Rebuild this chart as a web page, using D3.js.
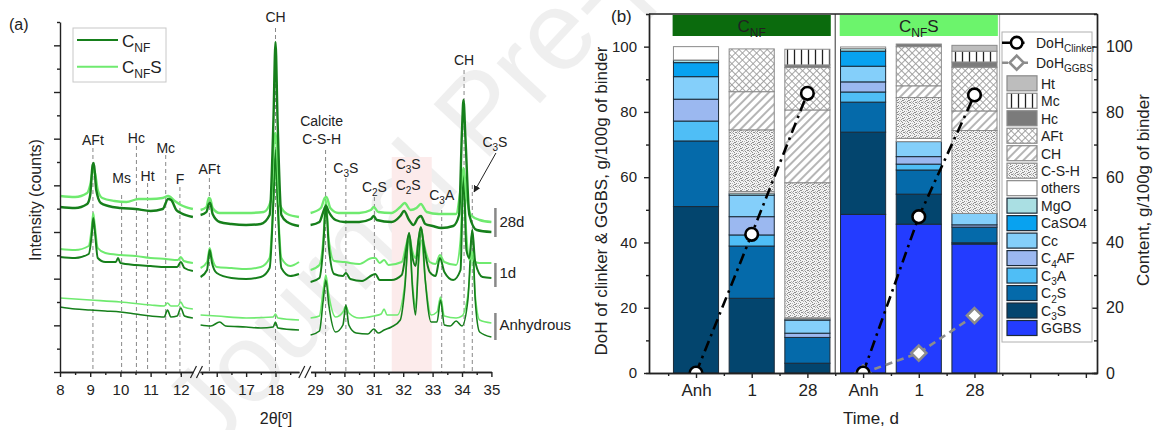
<!DOCTYPE html>
<html><head><meta charset="utf-8">
<script src="https://cdn.jsdelivr.net/npm/d3@7"></script>
<style>
body{margin:0;background:#fff;}
svg{display:block;font-family:"Liberation Sans",Arial,sans-serif;}
</style></head><body>
<svg id="c" width="1156" height="430"></svg>
<script>
// ================= DATA : panel (a) XRD =================
const xrdDomains = [[8, 12.4], [15.43, 18.8], [28.85, 35]];
const xrdMajorTicks = [[8, 9, 10, 11, 12], [16, 17, 18], [29, 30, 31, 32, 33, 34, 35]];
const xrdMinorTicks = [[8.5, 9.5, 10.5, 11.5, 12], [15.5, 16.5, 17.5, 18.5], [29.5, 30.5, 31.5, 32.5, 33.5, 34.5]];
const xrdLegend = ["C_{NF}", "C_{NF}S"];
const xrdAges = ["28d", "1d", "Anhydrous"];
const xrdAgeRange = [[135, 164], [85, 109], [32, 59]];
const xrdAgeText = [145, 94, 42];

// [2theta, intensity]
const cnf28 = [[8,165],[8.5,164],[8.9,168],[9.0,177],[9.08,207],[9.12,209],[9.2,182],[9.35,169],[9.6,166],[10,164],[10.5,163],[11,161],[11.4,163],[11.58,173],[11.68,172],[11.85,162],[12,159],[12.4,155],
  [15.45,157],[15.65,160],[15.73,168],[15.78,169],[15.86,158],[16.1,150],[16.5,148],[17,147],[17.5,148],[17.8,157],[17.93,252],[18,330],[18.07,252],[18.2,157],[18.4,150],[18.8,146],
  [28.85,147],[29.15,150],[29.28,160],[29.37,166],[29.47,160],[29.7,152],[30,150],[30.5,150],[30.9,153],[31,156],[31.1,152],[31.6,150],[31.9,156],[32.03,161],[32.2,152],[32.35,147],[32.5,154],[32.6,156],[32.75,148],[33,146],[33.3,144],[33.7,146],[33.9,157],[34,242],[34.05,272],[34.12,232],[34.25,157],[34.5,142],[35,140]];
const cnfs28 = [[8,176],[8.5,175],[8.9,179],[9.0,187],[9.1,202],[9.15,200],[9.25,182],[9.4,174],[9.8,171],[10.2,170],[10.6,173],[11,173],[11.4,174],[11.58,176],[11.8,171],[12,167],[12.4,163],
  [15.45,162],[15.65,165],[15.73,174],[15.78,173],[15.86,164],[16.1,159],[17,159],[17.6,160],[17.85,172],[17.95,232],[18,239],[18.05,222],[18.15,167],[18.4,158],[18.8,155],
  [28.85,159],[29.2,164],[29.33,174],[29.39,175],[29.52,164],[29.8,159],[30.5,159],[30.9,162],[31,165],[31.15,160],[31.6,159],[31.9,165],[32.05,169],[32.25,162],[32.45,164],[32.6,168],[32.8,160],[33.2,158],[33.8,158],[33.95,182],[34.05,204],[34.15,177],[34.3,157],[34.6,152],[35,150]];
const cnf1 = [[8,115],[8.5,114],[8.95,118],[9.05,137],[9.1,154],[9.15,142],[9.25,114],[9.5,110],[9.85,110],[9.92,114],[10,109],[10.5,107],[11,106],[11.5,105],[11.88,105],[12.0,110],[12.12,104],[12.4,101],
  [15.45,95],[15.67,102],[15.76,122],[15.84,109],[16,99],[16.5,94],[17,93],[17.5,95],[17.8,104],[17.93,172],[18,222],[18.07,172],[18.2,104],[18.5,96],[18.8,98],
  [28.85,90],[29.15,94],[29.28,125],[29.37,167],[29.47,125],[29.65,98],[29.95,96],[30.05,99],[30.2,93],[30.6,91],[30.95,97],[31.05,98],[31.2,92],[31.6,92],[31.95,97],[32.1,122],[32.2,139],[32.3,117],[32.42,106],[32.52,132],[32.6,145],[32.7,127],[32.9,100],[33.1,96],[33.25,114],[33.4,100],[33.7,92],[33.95,102],[34.05,202],[34.15,122],[34.25,114],[34.35,142],[34.45,110],[34.7,95],[35,94]];
const cnfs1 = [[8,123],[8.5,122],[8.95,126],[9.05,144],[9.1,159],[9.15,147],[9.25,124],[9.5,119],[10,117],[10.5,116],[11,114],[11.5,113],[11.9,112],[12.0,115],[12.1,111],[12.4,109],
  [15.45,104],[15.67,110],[15.76,124],[15.84,114],[16,105],[16.5,104],[17,103],[17.5,105],[17.8,114],[17.93,172],[18,207],[18.07,172],[18.2,114],[18.5,106],[18.8,110],
  [28.85,102],[29.15,107],[29.28,132],[29.37,172],[29.47,132],[29.65,111],[30,110],[30.5,108],[30.95,114],[31.05,114],[31.2,109],[31.35,112],[31.5,107],[31.95,110],[32.1,127],[32.2,137],[32.3,122],[32.42,114],[32.52,132],[32.6,144],[32.7,129],[32.9,110],[33.1,108],[33.25,117],[33.4,110],[33.8,107],[33.95,132],[34.05,192],[34.15,137],[34.25,112],[34.35,120],[34.45,110],[34.6,109],[35,109]];
const cnfAnh = [[8,65],[8.5,63],[9,62],[9.5,61],[10,60],[10.5,58],[11,56],[11.45,55],[11.56,62],[11.67,55],[11.88,56],[12.0,64],[12.12,56],[12.4,54],
  [15.45,47],[15.8,46],[16.1,50],[16.3,46],[17,45],[17.5,44],[17.92,45],[18,50],[18.08,44],[18.8,42],
  [28.85,37],[29.15,41],[29.28,72],[29.37,92],[29.47,67],[29.7,40],[29.95,47],[30.05,67],[30.15,47],[30.4,39],[30.8,38],[31,43],[31.15,39],[31.35,42],[31.6,45],[31.9,52],[32.05,82],[32.2,139],[32.32,82],[32.42,57],[32.52,112],[32.62,144],[32.75,92],[32.95,50],[33.15,50],[33.27,72],[33.4,47],[33.6,46],[33.8,51],[34,46],[34.2,72],[34.35,142],[34.45,72],[34.6,40],[35,35]];
const cnfsAnh = [[8,74],[8.5,73],[9,72],[10,70],[11,67],[11.45,66],[11.56,69],[11.67,66],[11.9,66],[12.0,70],[12.1,65],[12.4,63],
  [15.45,57],[16,56],[17,54],[17.92,55],[18,58],[18.08,54],[18.8,52],
  [28.85,54],[29.15,56],[29.28,82],[29.37,97],[29.47,77],[29.7,55],[29.95,60],[30.05,66],[30.15,59],[30.5,54],[31,56],[31.25,58],[31.35,63],[31.45,57],[31.8,57],[32.05,87],[32.2,132],[32.32,87],[32.42,64],[32.52,107],[32.62,132],[32.75,92],[32.95,57],[33.15,60],[33.27,75],[33.4,56],[33.8,54],[34,56],[34.2,77],[34.35,117],[34.45,77],[34.6,52],[35,49]];

// phase annotations: [label, 2theta, label baseline intensity, dashed line top intensity]
const xrdPhaseMarks = [
  ["AFt", 9.09, 227, 224], ["Ms", 10.04, 189, 177], ["Hc", 10.53, 229, 226], ["Ht", 10.9, 191, 189],
  ["Mc", 11.5, 219, 217], ["F", 11.97, 188, 185], ["AFt", 15.75, 198, 194], ["CH", 18.0, 350, 344],
  ["C_{3}S", 30.05, 199, 194], ["C_{2}S", 31.02, 180, 175], ["C_{3}A", 33.31, 172, 162], ["CH", 34.07, 307, 302]
];
const calciteMark = {lines: ["Calcite", "C-S-H"], pos: 29.36, base: [246, 228], top: 222};
const pinkRange = [31.61, 32.97], pinkTop = 215;
const pinkMark = {lines: ["C_{3}S", "C_{2}S"], pos: 32.17, base: [203, 182]};
const arrowMark = {text: "C_{3}S", at: 35.12, base: 225, to: [34.41, 180], pos: 34.35, top: 187};

// ================= DATA : panel (b) phase assemblage =================
const bCategories = ["Anh", "1", "28", "Anh", "1", "28"];
const bGroups = ["C_{NF}", "C_{NF}S"];
const bTickLabels = ["Anh", "1", "28", "Anh", "1", "28", "", ""];
const vGGBS   = [0, 0, 0, 48.6, 45.6, 39.5];
const vC3S    = [51.0, 22.9, 3.0, 25.2, 9.2, 0.4];
const vC2S    = [20.1, 16.0, 7.9, 9.2, 7.4, 4.8];
const vC3A    = [6.1, 3.4, 0, 3.1, 1.8, 0];
const vC4AF   = [6.7, 5.6, 1.3, 3.1, 2.3, 0.7];
const vCc     = [6.9, 6.6, 4.0, 4.8, 4.6, 3.5];
const vCaSO4  = [4.3, 0, 0, 4.6, 0, 0];
const vMgO    = [0.8, 0.6, 0.4, 0.8, 0, 0];
const vOthers = [4.1, 0.5, 0.3, 0.5, 1.0, 0];
const vCSH    = [0, 18.9, 41.4, 0, 12.5, 25.4];
const vCH     = [0, 11.7, 22.3, 0, 3.6, 6.0];
const vAFt    = [0, 13.1, 13.0, 0, 12.0, 13.4];
const vHc     = [0, 0, 0.8, 0, 0.8, 1.6];
const vMc     = [0, 0, 4.8, 0, 0, 3.3];
const vHt     = [0, 0, 0, 0, 0, 1.8];
const doHClinker = [[0, 42.5, 85.7], [0, 47.9, 85.2]];
const doHGGBS = [0, 6.1, 17.6];

// ================= RENDER =================
const svg = d3.select("#c");
const INK = "#222";
function rich(t, str, fs) {
  const sub = Math.round(fs * 0.68), sh = fs * 0.3; let inSub = false;
  str.split(/(_\{[^}]*\})/).filter(s => s).forEach(p => {
    if (p.startsWith("_{")) { t.append("tspan").attr("font-size", sub).attr("dy", inSub ? 0 : sh).text(p.slice(2, -1)); inSub = true; }
    else { t.append("tspan").attr("dy", inSub ? -sh : 0).text(p); inSub = false; }
  });
  return t;
}

// watermark (faint)
svg.append("text").attr("transform", "translate(212,455) rotate(-47)")
  .attr("font-size", 112).attr("fill", "#000").attr("opacity", 0.06).text("Journal Pre-proof");

// ---------- panel (a) ----------
const gA = svg.append("g");
const yA = d3.scaleLinear().domain([0, 350]).range([372, 22]);
const xRanges = [[60, 192.9], [200, 299], [310.6, 491.4]];
const xA = xrdDomains.map((d, i) => d3.scaleLinear().domain(d).range(xRanges[i]));
function xa(t) { for (const s of xA) { const d = s.domain(); if (t >= d[0] - 1e-9 && t <= d[1] + 1e-9) return s(t); } return xA[2](t); }

gA.append("rect").attr("x", xa(pinkRange[0])).attr("width", xa(pinkRange[1]) - xa(pinkRange[0]))
  .attr("y", yA(pinkTop)).attr("height", yA(0) - yA(pinkTop)).attr("fill", "#fcebeb");

// dashed reference lines
const dash = (p, top) => gA.append("line").attr("x1", xa(p)).attr("x2", xa(p)).attr("y1", yA(top)).attr("y2", yA(0))
  .attr("stroke", "#888").attr("stroke-width", 1).attr("stroke-dasharray", "4,3");
xrdPhaseMarks.forEach(m => dash(m[1], m[3]));
dash(calciteMark.pos, calciteMark.top);
dash(arrowMark.pos, arrowMark.top);

const DARK = "#167f1b", LIGHT = "#6fea6f";
const lineA = d3.line().x(d => xa(d[0])).y(d => yA(d[1])).curve(d3.curveMonotoneX);
function drawCurve(data, color, w) {
  xrdDomains.forEach(dm => {
    const seg = data.filter(d => d[0] >= dm[0] - 1e-9 && d[0] <= dm[1] + 1e-9);
    gA.append("path").attr("d", lineA(seg)).attr("fill", "none").attr("stroke", color)
      .attr("stroke-width", w).attr("stroke-linejoin", "round");
  });
}
drawCurve(cnfsAnh, LIGHT, 1.6); drawCurve(cnfAnh, DARK, 1.6);
drawCurve(cnfs1, LIGHT, 2); drawCurve(cnf1, DARK, 2);
drawCurve(cnfs28, LIGHT, 2.4); drawCurve(cnf28, DARK, 2.4);

// labels
const labA = (x, yv, s, anchor) => rich(gA.append("text").attr("x", x).attr("y", yA(yv)).attr("font-size", 14)
  .attr("fill", INK).attr("text-anchor", anchor || "middle"), s, 14);
xrdPhaseMarks.forEach(m => labA(xa(m[1]), m[2], m[0]));
calciteMark.lines.forEach((s, i) => labA(xa(calciteMark.pos) - 4, calciteMark.base[i], s));
pinkMark.lines.forEach((s, i) => labA(xa(pinkMark.pos), pinkMark.base[i], s));
labA(xa(arrowMark.at), arrowMark.base, arrowMark.text);
svg.append("defs").append("marker").attr("id", "ah").attr("viewBox", "0 0 10 10").attr("refX", 9).attr("refY", 5)
  .attr("markerWidth", 7).attr("markerHeight", 7).attr("orient", "auto")
  .append("path").attr("d", "M0,0L10,5L0,10z").attr("fill", INK);
gA.append("line").attr("x1", xa(arrowMark.at) + 1).attr("y1", yA(arrowMark.base) + 6)
  .attr("x2", xa(arrowMark.to[0])).attr("y2", yA(arrowMark.to[1])).attr("stroke", INK).attr("stroke-width", 1).attr("marker-end", "url(#ah)");

// age brackets
const axEnd = xRanges[2][1];
xrdAges.forEach((a, i) => {
  gA.append("line").attr("x1", axEnd + 4).attr("x2", axEnd + 4).attr("y1", yA(xrdAgeRange[i][0])).attr("y2", yA(xrdAgeRange[i][1]))
    .attr("stroke", "#888").attr("stroke-width", 2.5);
  gA.append("text").attr("x", axEnd + 8).attr("y", yA(xrdAgeText[i])).attr("font-size", 15).attr("fill", INK).text(a);
});

// axes (a)
const yTicksA = d3.range(0, 16).map(i => i * 350 / 15);
const gyA = gA.append("g").attr("transform", "translate(60,0)");
gyA.call(d3.axisLeft(yA).tickValues(yTicksA.filter((d, i) => i % 2 === 1)).tickSize(3).tickFormat(""));
gyA.call(g => g.select(".domain").remove());
const gyA2 = gA.append("g").attr("transform", "translate(60,0)");
gyA2.call(d3.axisLeft(yA).tickValues(yTicksA.filter((d, i) => i % 2 === 0)).tickSize(6).tickSizeOuter(0).tickFormat(""));
[gyA, gyA2].forEach(g => g.selectAll("line,path").attr("stroke", INK).attr("stroke-width", 1.4));
xA.forEach((s, i) => {
  const gm = gA.append("g").attr("transform", "translate(0,372)");
  gm.call(d3.axisBottom(s).tickValues(xrdMinorTicks[i]).tickSize(3).tickSizeOuter(0).tickFormat(""));
  const g = gA.append("g").attr("transform", "translate(0,372)");
  g.call(d3.axisBottom(s).tickValues(xrdMajorTicks[i]).tickSize(5).tickSizeOuter(0).tickPadding(7).tickFormat(d3.format("d")));
  [gm, g].forEach(q => q.selectAll("line,path").attr("stroke", INK).attr("stroke-width", 1.4));
  g.selectAll("text").attr("font-size", 15).attr("fill", INK).attr("font-family", null);
});
[(xRanges[0][1] + xRanges[1][0]) / 2, (xRanges[1][1] + xRanges[2][0]) / 2].forEach(cx => {
  [-3, 3].forEach(o => gA.append("line").attr("x1", cx + o - 3).attr("y1", 378).attr("x2", cx + o + 3).attr("y2", 366)
    .attr("stroke", INK).attr("stroke-width", 1.2));
});
gA.append("text").attr("x", 276).attr("y", 424).attr("text-anchor", "middle").attr("font-size", 16).attr("fill", INK).text("2θ[º]");
gA.append("text").attr("transform", "translate(41,200) rotate(-90)").attr("text-anchor", "middle").attr("font-size", 16)
  .attr("fill", INK).text("Intensity (counts)");
gA.append("text").attr("x", 9).attr("y", 30).attr("font-size", 16).attr("fill", INK).text("(a)");
// legend (a)
gA.append("rect").attr("x", 73).attr("y", 28).attr("width", 93).attr("height", 54).attr("fill", "#fff").attr("stroke", "#c8c8c8");
[[DARK, 40, 47], [LIGHT, 66.7, 73]].forEach((c, i) => {
  gA.append("line").attr("x1", 77).attr("x2", 118).attr("y1", c[1]).attr("y2", c[1]).attr("stroke", c[0]).attr("stroke-width", 2);
  rich(gA.append("text").attr("x", 122).attr("y", c[2]).attr("font-size", 17).attr("fill", INK), xrdLegend[i], 17);
});

// ---------- panel (b) ----------
const gB = svg.append("g");
const yB = d3.scaleLinear().domain([0, 110]).range([373, 14]);
const xB = d3.scaleLinear().domain([-0.844, 7.2]).range([649, 1097]);
const defs = svg.append("defs");
let p = defs.append("pattern").attr("id", "pAFt").attr("patternUnits", "userSpaceOnUse").attr("width", 5).attr("height", 5).attr("patternTransform", "rotate(45)");
p.append("rect").attr("width", 5).attr("height", 5).attr("fill", "#fff");
p.append("path").attr("d", "M0,2.5H5M2.5,0V5").attr("stroke", "#9c9c9c").attr("stroke-width", 0.9);
p = defs.append("pattern").attr("id", "pCH").attr("patternUnits", "userSpaceOnUse").attr("width", 6).attr("height", 6).attr("patternTransform", "rotate(45)");
p.append("rect").attr("width", 6).attr("height", 6).attr("fill", "#fff");
p.append("path").attr("d", "M3,0V6").attr("stroke", "#5a5a5a").attr("stroke-width", 0.9);
p = defs.append("pattern").attr("id", "pCSH").attr("patternUnits", "userSpaceOnUse").attr("width", 6).attr("height", 6);
p.append("rect").attr("width", 6).attr("height", 6).attr("fill", "#f3f3f3");
[[0,0],[3,0],[1,1],[5,1],[2,2],[4,3],[0,3],[3,4],[1,5],[5,5],[4,0],[2,4]].forEach((q, i) =>
  p.append("rect").attr("x", q[0]).attr("y", q[1]).attr("width", 1).attr("height", 1).attr("fill", i % 3 === 0 ? "#b5b5b5" : "#8e8e8e"));
p = defs.append("pattern").attr("id", "pMc").attr("patternUnits", "userSpaceOnUse").attr("width", 7).attr("height", 10);
p.append("rect").attr("width", 7).attr("height", 10).attr("fill", "#fff");
p.append("path").attr("d", "M3.5,0V10").attr("stroke", "#222").attr("stroke-width", 1.3);

const stackKeys = ["GGBS", "C3S", "C2S", "C3A", "C4AF", "Cc", "CaSO4", "MgO", "others", "CSH", "CH", "AFt", "Hc", "Mc", "Ht"];
const phaseVals = {GGBS: vGGBS, C3S: vC3S, C2S: vC2S, C3A: vC3A, C4AF: vC4AF, Cc: vCc, CaSO4: vCaSO4, MgO: vMgO,
  others: vOthers, CSH: vCSH, CH: vCH, AFt: vAFt, Hc: vHc, Mc: vMc, Ht: vHt};
const phaseName = {GGBS: "GGBS", C3S: "C_{3}S", C2S: "C_{2}S", C3A: "C_{3}A", C4AF: "C_{4}AF", Cc: "Cc", CaSO4: "CaSO4",
  MgO: "MgO", others: "others", CSH: "C-S-H", CH: "CH", AFt: "AFt", Hc: "Hc", Mc: "Mc", Ht: "Ht"};
const phaseFill = {GGBS: "#233cff", C3S: "#03456e", C2S: "#056aaa", C3A: "#4fbef6", C4AF: "#9bb8f0", Cc: "#84cffa",
  CaSO4: "#08a2f0", MgO: "#aadfe3", others: "#ffffff", CSH: "url(#pCSH)", CH: "url(#pCH)", AFt: "url(#pAFt)",
  Hc: "#7b7b7b", Mc: "url(#pMc)", Ht: "#bdbdbd"};
const phaseStroke = k => (["CSH", "CH", "AFt", "Mc", "Ht", "Hc", "others"].includes(k) ? "#8a8a8a" : "#1b2a38");

// group headers
const hdrColor = ["#0b6b0d", "#6cf46c"];
bGroups.forEach((g, gi) => {
  const c = gi * 3 + 1;
  gB.append("rect").attr("x", xB(c - 1.42)).attr("width", xB(c + 1.42) - xB(c - 1.42)).attr("y", 15).attr("height", 21).attr("fill", hdrColor[gi]);
  rich(gB.append("text").attr("x", xB(c)).attr("y", 31.5).attr("text-anchor", "middle").attr("font-size", 17).attr("fill", INK), g, 17);
});
// separators
gB.append("line").attr("x1", xB(2.5)).attr("x2", xB(2.5)).attr("y1", yB(110)).attr("y2", yB(0)).attr("stroke", "#555").attr("stroke-width", 1.2);
gB.append("line").attr("x1", xB(5.45)).attr("x2", xB(5.45)).attr("y1", yB(110)).attr("y2", yB(0)).attr("stroke", "#b5b5b5").attr("stroke-width", 1.2);

// stacked bars
const rows = bCategories.map((c, i) => { const r = {i}; stackKeys.forEach(k => r[k] = phaseVals[k][i]); return r; });
const series = d3.stack().keys(stackKeys)(rows);
const bw = xB(0.81) - xB(0);
series.forEach(s => {
  gB.append("g").selectAll("rect").data(s.filter(d => d[1] - d[0] > 0.01)).join("rect")
    .attr("x", d => xB(d.data.i) - bw / 2).attr("width", bw)
    .attr("y", d => yB(d[1])).attr("height", d => yB(d[0]) - yB(d[1]))
    .attr("fill", phaseFill[s.key]).attr("stroke", phaseStroke(s.key)).attr("stroke-width", 1);
});

// DoH lines
defs.append("clipPath").attr("id", "clipB").append("rect").attr("x", 649).attr("y", 14).attr("width", 448).attr("height", 359);
const gL = gB.append("g").attr("clip-path", "url(#clipB)");
const lineB = d3.line().x(d => xB(d[0])).y(d => yB(d[1]));
const ggbsPts = doHGGBS.map((v, j) => [3 + j, v]);
gL.append("path").attr("d", lineB(ggbsPts)).attr("fill", "none").attr("stroke", "#8c8c8c").attr("stroke-width", 2.6).attr("stroke-dasharray", "7,5");
doHClinker.forEach((arr, gi) => {
  const pts = arr.map((v, j) => [gi * 3 + j, v]);
  gL.append("path").attr("d", lineB(pts)).attr("fill", "none").attr("stroke", "#000").attr("stroke-width", 2.6).attr("stroke-dasharray", "11,5,2.5,5");
});
const diamond = (x, y, r) => `M${x},${y - r}L${x + r},${y}L${x},${y + r}L${x - r},${y}Z`;
ggbsPts.forEach(d => gL.append("path").attr("d", diamond(xB(d[0]), yB(d[1]), 7.5)).attr("fill", "#fff").attr("stroke", "#8c8c8c").attr("stroke-width", 2.6));
doHClinker.forEach((arr, gi) => arr.forEach((v, j) => gL.append("circle").attr("cx", xB(gi * 3 + j)).attr("cy", yB(v)).attr("r", 6.3)
  .attr("fill", "#fff").attr("stroke", "#000").attr("stroke-width", 2.6)));

// axes (b)
const styleAx = g => { g.selectAll("line,path").attr("stroke", INK).attr("stroke-width", 1.4); g.selectAll("text").attr("fill", INK).attr("font-family", null); };
const yMaj = [0, 20, 40, 60, 80, 100], yMin = [10, 30, 50, 70, 90];
let g = gB.append("g").attr("transform", "translate(649,0)");
g.call(d3.axisLeft(yB).tickValues(yMin).tickSize(3).tickFormat("")); styleAx(g);
g = gB.append("g").attr("transform", "translate(649,0)");
g.call(d3.axisLeft(yB).tickValues(yMaj).tickSize(5).tickSizeOuter(0).tickPadding(7)); styleAx(g); g.selectAll("text").attr("font-size", 15);
g = gB.append("g").attr("transform", "translate(1097,0)");
g.call(d3.axisRight(yB).tickValues(yMin).tickSize(-3).tickFormat("")); styleAx(g);
g = gB.append("g").attr("transform", "translate(1097,0)");
g.call(d3.axisRight(yB).tickValues(yMaj).tickSize(-5).tickSizeOuter(0).tickPadding(9)); styleAx(g); g.selectAll("text").attr("font-size", 16);
g = gB.append("g").attr("transform", "translate(0,373)");
g.call(d3.axisBottom(xB).tickValues(d3.range(-0.5, 7, 1)).tickSize(3).tickSizeOuter(0).tickFormat("")); styleAx(g);
g = gB.append("g").attr("transform", "translate(0,373)");
g.call(d3.axisBottom(xB).tickValues(d3.range(0, 8)).tickFormat(i => bTickLabels[i]).tickSize(5).tickSizeOuter(0).tickPadding(6)); styleAx(g);
g.selectAll("text").attr("font-size", 17);
gB.append("line").attr("x1", 649).attr("x2", 1097).attr("y1", 14).attr("y2", 14).attr("stroke", INK).attr("stroke-width", 1.4);

gB.append("text").attr("x", 871).attr("y", 424).attr("text-anchor", "middle").attr("font-size", 17).attr("fill", INK).text("Time, d");
gB.append("text").attr("transform", "translate(607,201) rotate(-90)").attr("text-anchor", "middle").attr("font-size", 17)
  .attr("fill", INK).text("DoH of clinker & GGBS, g/100g of binder");
gB.append("text").attr("transform", "translate(1149,190) rotate(-90)").attr("text-anchor", "middle").attr("font-size", 17)
  .attr("fill", INK).text("Content, g/100g of binder");
gB.append("text").attr("x", 611).attr("y", 22).attr("font-size", 17).attr("fill", INK).text("(b)");

// legend (b)
const gLg = gB.append("g");
gLg.append("rect").attr("x", 1002).attr("y", 32).attr("width", 90).attr("height", 310).attr("fill", "#fff").attr("stroke", "#b0b0b0");
gLg.append("line").attr("x1", 1002).attr("x2", 1031).attr("y1", 42.7).attr("y2", 42.7).attr("stroke", "#000").attr("stroke-width", 2.6).attr("stroke-dasharray", "14,6,2.5,30");
gLg.append("circle").attr("cx", 1016.7).attr("cy", 42.7).attr("r", 5.8).attr("fill", "#fff").attr("stroke", "#000").attr("stroke-width", 2.6);
rich(gLg.append("text").attr("x", 1036).attr("y", 47.5).attr("font-size", 14).attr("fill", INK), "DoH_{Clinker}", 14);
gLg.append("line").attr("x1", 1002).attr("x2", 1031).attr("y1", 62.7).attr("y2", 62.7).attr("stroke", "#8c8c8c").attr("stroke-width", 2.6).attr("stroke-dasharray", "6,4");
gLg.append("path").attr("d", diamond(1016.7, 62.7, 7)).attr("fill", "#fff").attr("stroke", "#8c8c8c").attr("stroke-width", 2.6);
rich(gLg.append("text").attr("x", 1036).attr("y", 67.5).attr("font-size", 14).attr("fill", INK), "DoH_{GGBS}", 14);
const legKeys = stackKeys.slice().reverse();
const ly0 = 83.3, lstep = (328 - 83.3) / 14;
legKeys.forEach((k, i) => {
  const cy = ly0 + i * lstep;
  gLg.append("rect").attr("x", 1007).attr("y", cy - 7.5).attr("width", 30).attr("height", 15)
    .attr("fill", phaseFill[k]).attr("stroke", phaseStroke(k) === "#8a8a8a" ? "#8a8a8a" : "#1b2a38").attr("stroke-width", 1.2);
  rich(gLg.append("text").attr("x", 1041).attr("y", cy + 5.3).attr("font-size", 14).attr("fill", INK), phaseName[k], 14);
});
</script>
</body></html>
